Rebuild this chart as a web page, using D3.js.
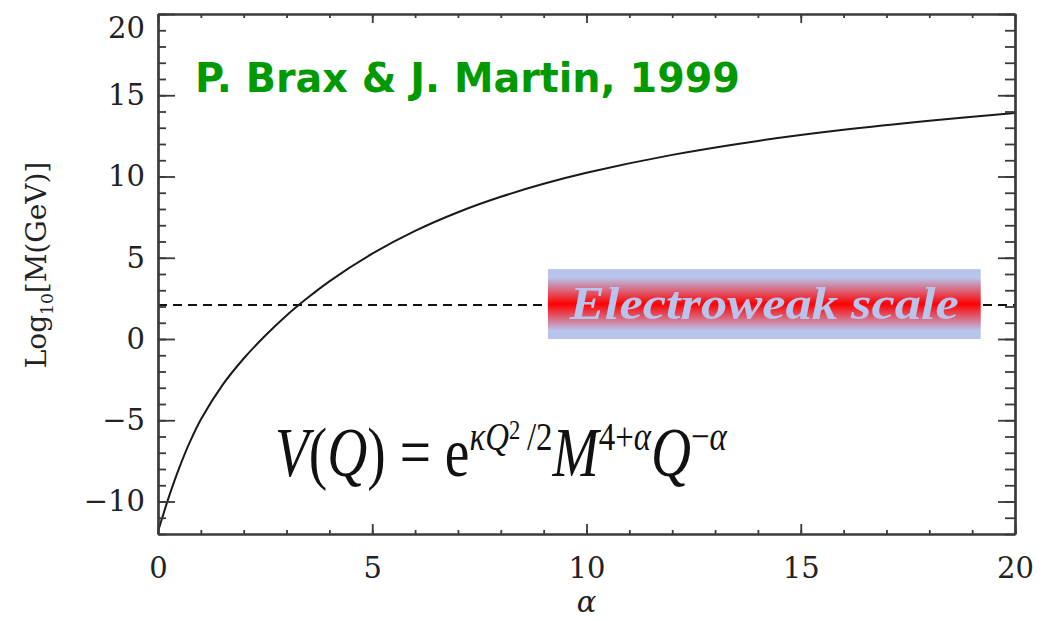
<!DOCTYPE html>
<html>
<head>
<meta charset="utf-8">
<script src="https://cdn.jsdelivr.net/npm/d3@7"></script>
<style>
  html, body { margin: 0; padding: 0; background: #fff; }
  svg { display: block; }
</style>
</head>
<body>
<svg id="chart" width="1046" height="621"></svg>
<script>
// Mass scale M (log10 GeV) required for the SUGRA quintessence potential vs. exponent alpha
const alphaValues = [0, 0.25, 0.5, 0.75, 1, 1.5, 2, 2.5, 3, 3.5, 4, 5, 6, 7, 8, 9, 10, 12, 14, 16, 18, 20];
const logMass     = [-11.85, -9.75, -7.9, -6.3, -4.95, -2.85, -1.2, 0.2, 1.45, 2.55, 3.55, 5.25, 6.65, 7.8, 8.75, 9.55, 10.23, 11.33, 12.19, 12.87, 13.43, 13.91];

const electroweakLog = 2.1;            // log10 of the electroweak scale (GeV)
const ewBandRange = [0, 4.3];          // vertical extent of the label band
const ewBandAlpha = [9.1, 19.2];       // horizontal extent of the label band

const xDomain = [0, 20];
const yDomain = [-12, 20];
const xMajorTicks = [0, 5, 10, 15, 20];
const yMajorTicks = [-10, -5, 0, 5, 10, 15, 20];
const xMinorTicks = d3.range(0, 21, 1);
const yMinorTicks = d3.range(-12, 21, 1);

const titleText = "P. Brax & J. Martin, 1999";
const bandText = "Electroweak scale";

const svg = d3.select("#chart");
const margin = { left: 158, right: 31, top: 14, bottom: 87 };
const W = 1046, H = 621;
const x = d3.scaleLinear().domain(xDomain).range([margin.left, W - margin.right]);
const y = d3.scaleLinear().domain(yDomain).range([H - margin.bottom, margin.top]);

const axisColor = "#3a3a3a";
const tickFont = "'DejaVu Serif', serif";
const mathFont = "'Liberation Serif', 'Times New Roman', Times, serif";
const fmt = d => (d < 0 ? "\u2212" + Math.abs(d) : String(d));

// gradient for the electroweak band
const defs = svg.append("defs");
const grad = defs.append("linearGradient").attr("id", "ewGrad")
  .attr("x1", 0).attr("y1", 0).attr("x2", 0).attr("y2", 1);
[[0, "#b8c4ec"], [0.12, "#b8c4ec"], [0.5, "#ff0000"], [0.88, "#b8c4ec"], [1, "#b8c4ec"]]
  .forEach(([o, c]) => grad.append("stop").attr("offset", o).attr("stop-color", c));

// dashed reference line
svg.append("line")
  .attr("x1", x(xDomain[0])).attr("x2", x(xDomain[1]))
  .attr("y1", y(electroweakLog)).attr("y2", y(electroweakLog))
  .attr("stroke", "#111").attr("stroke-width", 2).attr("stroke-dasharray", "9,6");

// band with label
svg.append("rect")
  .attr("x", x(ewBandAlpha[0])).attr("width", x(ewBandAlpha[1]) - x(ewBandAlpha[0]))
  .attr("y", y(ewBandRange[1])).attr("height", y(ewBandRange[0]) - y(ewBandRange[1]))
  .attr("fill", "url(#ewGrad)");
svg.append("text")
  .attr("x", (x(ewBandAlpha[0]) + x(ewBandAlpha[1])) / 2)
  .attr("y", y(electroweakLog) + 14)
  .attr("text-anchor", "middle")
  .attr("font-family", mathFont)
  .attr("font-style", "italic").attr("font-weight", "bold")
  .attr("font-size", 47)
  .attr("textLength", 389).attr("lengthAdjust", "spacingAndGlyphs")
  .attr("fill", "#b8c4ec")
  .text(bandText);

// the curve
const line = d3.line()
  .x((d, i) => x(alphaValues[i]))
  .y(d => y(d))
  .curve(d3.curveCatmullRom.alpha(0.5));
svg.append("path")
  .datum(logMass)
  .attr("d", line)
  .attr("fill", "none")
  .attr("stroke", "#1a1a1a")
  .attr("stroke-width", 2);

// axes
function styleAxis(g) {
  g.select(".domain").attr("stroke", axisColor).attr("stroke-width", 2.2);
  g.selectAll(".tick line").attr("stroke", axisColor).attr("stroke-width", 1.8);
  g.selectAll(".tick text").attr("fill", "#222").attr("font-family", tickFont).attr("font-size", 29);
}

// left
svg.append("g").attr("transform", `translate(${x(0)},0)`)
  .call(d3.axisLeft(y).tickValues(yMinorTicks).tickSize(-8).tickSizeOuter(0).tickFormat(""))
  .call(styleAxis);
const leftMajor = svg.append("g").attr("transform", `translate(${x(0)},0)`)
  .call(d3.axisLeft(y).tickValues(yMajorTicks).tickSize(-17).tickSizeOuter(0).tickPadding(13).tickFormat(fmt))
  .call(styleAxis);
leftMajor.selectAll(".tick text").filter(d => d === yDomain[1]).attr("dy", "0.8em");

// right
svg.append("g").attr("transform", `translate(${x(20)},0)`)
  .call(d3.axisRight(y).tickValues(yMinorTicks).tickSize(-10).tickSizeOuter(0).tickFormat(""))
  .call(styleAxis);
svg.append("g").attr("transform", `translate(${x(20)},0)`)
  .call(d3.axisRight(y).tickValues(yMajorTicks).tickSize(-17).tickSizeOuter(0).tickFormat(""))
  .call(styleAxis);

// bottom
svg.append("g").attr("transform", `translate(0,${y(yDomain[0])})`)
  .call(d3.axisBottom(x).tickValues(xMinorTicks).tickSize(-4).tickSizeOuter(0).tickFormat(""))
  .call(styleAxis);
svg.append("g").attr("transform", `translate(0,${y(yDomain[0])})`)
  .call(d3.axisBottom(x).tickValues(xMajorTicks).tickSize(-10).tickSizeOuter(0).tickPadding(23).tickFormat(fmt))
  .call(styleAxis);

// top
svg.append("g").attr("transform", `translate(0,${y(yDomain[1])})`)
  .call(d3.axisTop(x).tickValues(xMinorTicks).tickSize(-4).tickSizeOuter(0).tickFormat(""))
  .call(styleAxis);
svg.append("g").attr("transform", `translate(0,${y(yDomain[1])})`)
  .call(d3.axisTop(x).tickValues(xMajorTicks).tickSize(-9).tickSizeOuter(0).tickFormat(""))
  .call(styleAxis);

// axis titles
svg.append("text")
  .attr("x", x(10)).attr("y", 612)
  .attr("text-anchor", "middle")
  .attr("font-family", "'DejaVu Serif', serif").attr("font-style", "italic")
  .attr("font-size", 29).attr("fill", "#222")
  .text("\u03B1");

const yTitle = svg.append("text")
  .attr("transform", "translate(46,265) rotate(-90)")
  .attr("text-anchor", "middle")
  .attr("font-family", "'DejaVu Serif', serif")
  .attr("font-size", 28).attr("fill", "#222");
yTitle.append("tspan").text("Log");
yTitle.append("tspan").attr("font-size", 17).attr("dy", 7).text("10");
yTitle.append("tspan").attr("dy", -7).text("[M(GeV)]");

// citation
svg.append("text")
  .attr("x", 195).attr("y", 92)
  .attr("font-family", "'DejaVu Sans', sans-serif").attr("font-weight", "bold")
  .attr("font-size", 40)
  .attr("textLength", 545).attr("lengthAdjust", "spacingAndGlyphs")
  .attr("fill", "#009900")
  .text(titleText);

// potential formula (tall math setting)
const fmlG = svg.append("g");
const mainSize = 64, sup = 38, sh = 24;
const fml = fmlG.append("text")
  .attr("x", 0).attr("y", 0)
  .attr("font-family", mathFont)
  .attr("font-size", mainSize).attr("fill", "#111");
fml.append("tspan").attr("font-style", "italic").text("V");
fml.append("tspan").text("(");
fml.append("tspan").attr("font-style", "italic").text("Q");
fml.append("tspan").text(") = e");
fml.append("tspan").attr("font-size", sup).attr("dy", -sh).attr("font-style", "italic").text("\u03BAQ");
fml.append("tspan").attr("font-size", 26).attr("dy", -10).text("2");
fml.append("tspan").attr("font-size", sup).attr("dy", 10).text("\u2009/2");
fml.append("tspan").attr("font-style", "italic").attr("dy", sh).text("M");
fml.append("tspan").attr("font-size", sup).attr("dy", -sh).text("4+");
fml.append("tspan").attr("font-size", sup).attr("font-style", "italic").text("\u03B1");
fml.append("tspan").attr("font-style", "italic").attr("dy", sh).text("Q");
fml.append("tspan").attr("font-size", sup).attr("dy", -sh).text("\u2212");
fml.append("tspan").attr("font-size", sup).attr("font-style", "italic").text("\u03B1");
// fit between alpha ≈ 2.73 and 13.3, baseline at log M ≈ -8.4, cap height ≈ 2.8 units
const fx0 = x(2.73), fx1 = x(13.3), fBase = y(-8.4);
const bb = fml.node().getBBox();
const sx = (fx1 - fx0) / bb.width;
const sy = (y(0) - y(2.8)) / (0.662 * mainSize);
fmlG.attr("transform", `translate(${fx0 - bb.x * sx},${fBase}) scale(${sx},${sy})`);
</script>
</body>
</html>
